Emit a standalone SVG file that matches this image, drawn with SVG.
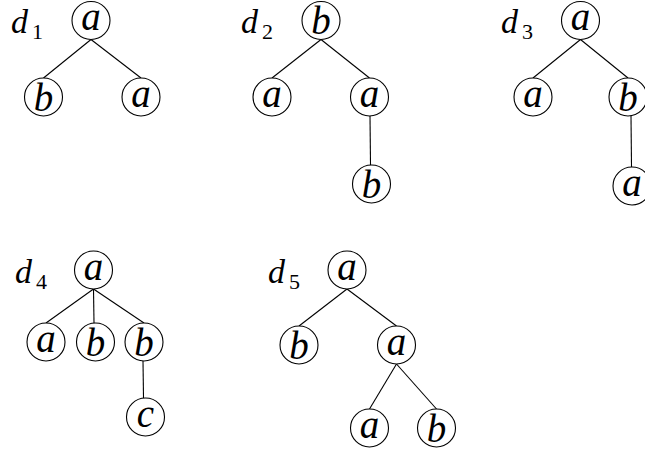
<svg xmlns="http://www.w3.org/2000/svg" width="645" height="451" viewBox="0 0 645 451">
<style>
.n circle{fill:#fff;stroke:#000;stroke-width:1.1}
.n text{font-family:"Liberation Serif",serif;font-style:italic;font-size:39px;text-anchor:middle;fill:#000}
.e line{stroke:#000;stroke-width:1.1}
.lbl{font-family:"Liberation Serif",serif;font-style:italic;font-size:34px;fill:#000}
.sub{font-family:"Liberation Serif",serif;font-style:normal;font-size:22px;fill:#000}
</style>
<rect width="645" height="451" fill="#fff"/>
<g id="connectors" class="e">
<line x1="91" y1="39.5" x2="43.5" y2="78"/>
<line x1="91" y1="39.5" x2="141" y2="78"/>
<line x1="321" y1="39.5" x2="272" y2="78"/>
<line x1="321" y1="39.5" x2="369.5" y2="78"/>
<line x1="370" y1="116" x2="370.5" y2="165"/>
<line x1="580.5" y1="39.5" x2="533" y2="78"/>
<line x1="580.5" y1="39.5" x2="628" y2="78"/>
<line x1="631" y1="116" x2="631.5" y2="167"/>
<line x1="93.5" y1="289" x2="46" y2="323"/>
<line x1="93.5" y1="289" x2="94" y2="323"/>
<line x1="93.5" y1="289" x2="144" y2="323"/>
<line x1="143" y1="361" x2="143.5" y2="398"/>
<line x1="347" y1="289" x2="299" y2="326"/>
<line x1="347" y1="289" x2="396.5" y2="326"/>
<line x1="396.5" y1="364" x2="369.5" y2="409"/>
<line x1="396.5" y1="364" x2="436.5" y2="409"/>
</g>
<g id="labels">
<text class="lbl" x="11" y="33">d</text><text class="sub" x="32" y="39">1</text>
<text class="lbl" x="241" y="33">d</text><text class="sub" x="262" y="39">2</text>
<text class="lbl" x="501" y="33">d</text><text class="sub" x="522" y="39">3</text>
<text class="lbl" x="15" y="283">d</text><text class="sub" x="36" y="289">4</text>
<text class="lbl" x="268" y="283">d</text><text class="sub" x="289" y="289">5</text>
</g>
<g id="d1-root" class="n"><circle cx="91" cy="20.5" r="19"/><text x="91" y="30">a</text></g>
<g id="d1-b" class="n"><circle cx="43.5" cy="97" r="19"/><text x="43.5" y="110.5">b</text></g>
<g id="d1-a" class="n"><circle cx="141" cy="97" r="19"/><text x="141" y="106.5">a</text></g>
<g id="d2-root" class="n"><circle cx="321" cy="20.5" r="19"/><text x="321" y="34">b</text></g>
<g id="d2-a1" class="n"><circle cx="272" cy="97" r="19"/><text x="272" y="106.5">a</text></g>
<g id="d2-a2" class="n"><circle cx="369.5" cy="97" r="19"/><text x="369.5" y="106.5">a</text></g>
<g id="d2-b" class="n"><circle cx="371.5" cy="184" r="19"/><text x="371.5" y="197.5">b</text></g>
<g id="d3-root" class="n"><circle cx="580.5" cy="20.5" r="19"/><text x="580.5" y="30">a</text></g>
<g id="d3-a" class="n"><circle cx="533" cy="97" r="19"/><text x="533" y="106.5">a</text></g>
<g id="d3-b" class="n"><circle cx="628" cy="97" r="19"/><text x="628" y="110.5">b</text></g>
<g id="d3-a2" class="n"><circle cx="632" cy="186" r="19"/><text x="632" y="195.5">a</text></g>
<g id="d4-root" class="n"><circle cx="93.5" cy="270" r="19"/><text x="93.5" y="279.5">a</text></g>
<g id="d4-a" class="n"><circle cx="46" cy="342" r="19"/><text x="46" y="351.5">a</text></g>
<g id="d4-b1" class="n"><circle cx="95.5" cy="342" r="19"/><text x="95.5" y="355.5">b</text></g>
<g id="d4-b2" class="n"><circle cx="144" cy="342" r="19"/><text x="144" y="355.5">b</text></g>
<g id="d4-c" class="n"><circle cx="145.5" cy="417" r="19"/><text x="145.5" y="426.5">c</text></g>
<g id="d5-root" class="n"><circle cx="347" cy="270" r="19"/><text x="347" y="279.5">a</text></g>
<g id="d5-b" class="n"><circle cx="299" cy="345" r="19"/><text x="299" y="358.5">b</text></g>
<g id="d5-a" class="n"><circle cx="396.5" cy="345" r="19"/><text x="396.5" y="354.5">a</text></g>
<g id="d5-ga" class="n"><circle cx="369.5" cy="428" r="19"/><text x="369.5" y="437.5">a</text></g>
<g id="d5-gb" class="n"><circle cx="436.5" cy="428" r="19"/><text x="436.5" y="441.5">b</text></g>
</svg>
